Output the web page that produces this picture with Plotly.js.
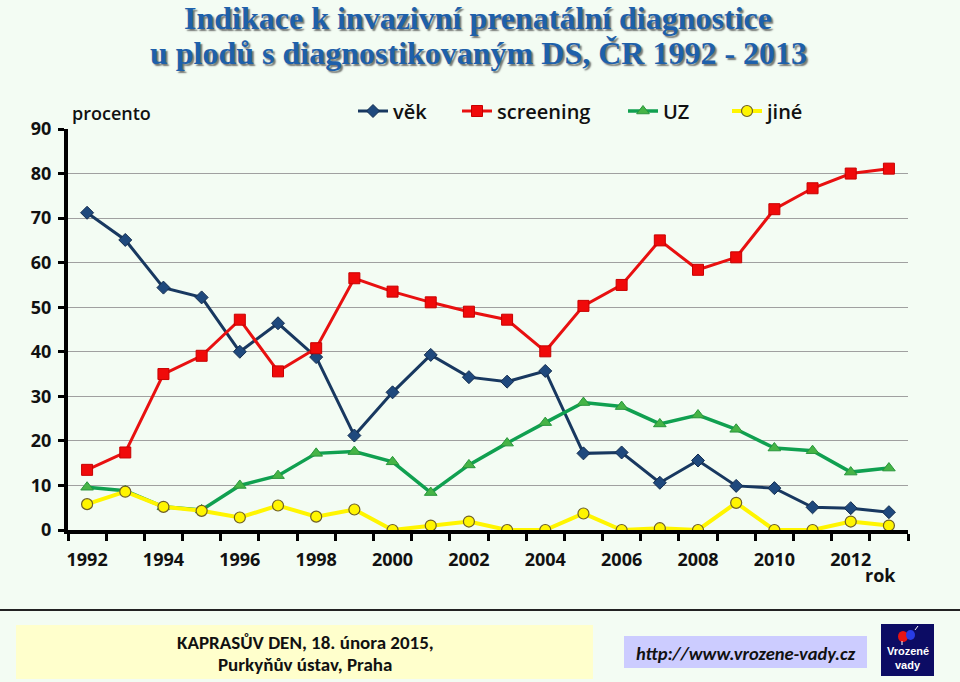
<!DOCTYPE html>
<html>
<head>
<meta charset="utf-8">
<script src="https://cdn.plot.ly/plotly-3.0.1.min.js"></script>
<style>
  html, body { margin: 0; padding: 0; background: rgb(243,252,243); }
  #chart { width: 960px; height: 682px; }
</style>
</head>
<body>
<div id="chart"></div>
<script>
// ---- data ----
const years = [1992, 1993, 1994, 1995, 1996, 1997, 1998, 1999, 2000, 2001, 2002,
               2003, 2004, 2005, 2006, 2007, 2008, 2009, 2010, 2011, 2012, 2013];
const vek = [71.2, 65.1, 54.4, 52.2, 40.0, 46.4, 38.8, 21.2, 30.9, 39.3, 34.3,
             33.3, 35.7, 17.2, 17.4, 10.6, 15.6, 9.9, 9.4, 5.1, 4.9, 4.0];
const screening = [13.5, 17.4, 35.0, 39.1, 47.2, 35.6, 40.8, 56.5, 53.5, 51.1, 49.0,
                   47.2, 40.1, 50.3, 55.0, 65.0, 58.4, 61.2, 72.0, 76.7, 80.0, 81.1];
const uz = [9.6, 8.8, 5.2, 4.5, 10.0, 12.2, 17.2, 17.6, 15.3, 8.4, 14.6,
            19.5, 24.1, 28.6, 27.7, 23.8, 25.8, 22.6, 18.4, 17.8, 13.0, 13.9];
const jine = [5.8, 8.6, 5.2, 4.3, 2.8, 5.5, 3.0, 4.6, 0.0, 1.0, 1.9,
              0.0, 0.0, 3.7, 0.0, 0.4, 0.0, 6.1, 0.0, 0.0, 1.9, 1.0];
const seriesNames = ['věk', 'screening', 'UZ', 'jiné'];
const xTickVals = [1992, 1994, 1996, 1998, 2000, 2002, 2004, 2006, 2008, 2010, 2012];
const xTickText = ['1992', '1994', '1996', '1998', '2000', '2002', '2004', '2006', '2008', '2010', '2012'];
const yTickVals = [0, 10, 20, 30, 40, 50, 60, 70, 80, 90];
const titleLines = ['Indikace k invazivní prenatální diagnostice',
                    'u plodů s diagnostikovaným DS, ČR 1992 - 2013'];
const yLabel = 'procento';
const xLabel = 'rok';
const footerLines = ['KAPRASŮV DEN, 18. února 2015,', 'Purkyňův ústav, Praha'];
const footerUrl = 'http://www.vrozene-vady.cz';
const logoLines = ['Vrozené', 'vady'];

// ---- layout helpers (pixel -> paper) ----
const W = 960, H = 682;
const M = {l: 68, r: 52, t: 129, b: 152};
const PW = W - M.l - M.r, PH = H - M.t - M.b;
const px = v => (v - M.l) / PW;
const py = v => (H - M.b - v) / PH;

const BG = 'rgb(243,252,243)';
const tickFont = {family: 'Open Sans, Noto Sans, sans-serif', size: 18, color: '#111', weight: 700};
const legendFont = {family: 'Open Sans, Noto Sans, sans-serif', size: 20, color: '#111', weight: 600};

const bounds = years.map(y => y - 0.5).concat([years[years.length - 1] + 0.5]);

const traces = [
  {x: years, y: vek, name: seriesNames[0], mode: 'lines+markers', legend: 'legend',
   line: {color: 'rgb(24,56,96)', width: 3},
   marker: {symbol: 'diamond', size: 10, color: 'rgb(31,73,125)', line: {color: 'rgb(20,45,80)', width: 1}}},
  {x: years, y: screening, name: seriesNames[1], mode: 'lines+markers', legend: 'legend2',
   line: {color: 'rgb(232,16,16)', width: 3},
   marker: {symbol: 'square', size: 11, color: 'rgb(240,10,10)', line: {color: 'rgb(200,0,0)', width: 1}}},
  {x: years, y: uz, name: seriesNames[2], mode: 'lines+markers', legend: 'legend3',
   line: {color: 'rgb(16,160,80)', width: 3.5},
   marker: {symbol: 'triangle-up', size: 11, color: 'rgb(70,180,70)', line: {color: 'rgb(40,150,60)', width: 1}}},
  {x: years, y: jine, name: seriesNames[3], mode: 'lines+markers', legend: 'legend4',
   line: {color: 'rgb(255,245,0)', width: 4},
   marker: {symbol: 'circle', size: 11, color: 'rgb(255,245,0)', line: {color: 'rgb(110,95,40)', width: 1.2}}}
];

function legendAt(xpx) {
  return {x: px(xpx), xanchor: 'left', y: py(111), yanchor: 'middle', orientation: 'h',
          bgcolor: 'rgba(0,0,0,0)', borderwidth: 0, font: legendFont, itemwidth: 30,
          itemclick: false, itemdoubleclick: false};
}

const annotations = [];
// title (shadow added as CSS text-shadow after render)
const titleCenters = [18, 53];
titleLines.forEach((t, i) => {
  annotations.push({xref: 'paper', yref: 'paper', x: px(478), y: py(titleCenters[i]),
    xanchor: 'center', yanchor: 'middle', showarrow: false, text: t,
    font: {family: 'Liberation Serif, Times New Roman, serif', size: 32, weight: 700, color: 'rgb(30,96,170)'}});
});
annotations.push({xref: 'paper', yref: 'paper', x: px(70), y: py(113), xanchor: 'left', yanchor: 'middle',
  showarrow: false, text: yLabel, font: {family: 'Open Sans, sans-serif', size: 18, weight: 600, color: '#111'}});
annotations.push({xref: 'paper', yref: 'paper', x: px(880), y: py(575), xanchor: 'center', yanchor: 'middle',
  showarrow: false, text: xLabel, font: {family: 'Open Sans, sans-serif', size: 18, weight: 700, color: '#111'}});
const footFont = {family: 'Carlito, Open Sans, sans-serif', size: 19, weight: 600, color: '#111'};
annotations.push({xref: 'paper', yref: 'paper', x: px(305), y: py(642), xanchor: 'center', yanchor: 'middle',
  showarrow: false, text: footerLines[0], font: footFont});
annotations.push({xref: 'paper', yref: 'paper', x: px(305), y: py(664), xanchor: 'center', yanchor: 'middle',
  showarrow: false, text: footerLines[1], font: footFont});
annotations.push({xref: 'paper', yref: 'paper', x: px(746), y: py(653), xanchor: 'center', yanchor: 'middle',
  showarrow: false, text: '<i>' + footerUrl + '</i>', font: {family: 'Carlito, Open Sans, sans-serif', size: 18.5, weight: 600, color: '#111'}});
annotations.push({xref: 'paper', yref: 'paper', x: px(907.5), y: py(651), xanchor: 'center', yanchor: 'middle',
  showarrow: false, text: logoLines[0], font: {family: 'Liberation Sans, Arial, sans-serif', size: 11, weight: 700, color: '#fff'}});
annotations.push({xref: 'paper', yref: 'paper', x: px(907.5), y: py(665), xanchor: 'center', yanchor: 'middle',
  showarrow: false, text: logoLines[1], font: {family: 'Liberation Sans, Arial, sans-serif', size: 11, weight: 700, color: '#fff'}});

const shapes = [
  {type: 'line', xref: 'paper', yref: 'paper', x0: px(0), x1: px(960), y0: py(610), y1: py(610),
   line: {color: '#222', width: 2}},
  {type: 'rect', xref: 'paper', yref: 'paper', x0: px(16), x1: px(593), y0: py(625), y1: py(679),
   fillcolor: 'rgb(255,255,204)', line: {width: 0}},
  {type: 'rect', xref: 'paper', yref: 'paper', x0: px(624), x1: px(867), y0: py(636), y1: py(668),
   fillcolor: 'rgb(204,204,255)', line: {width: 0}},
  {type: 'rect', xref: 'paper', yref: 'paper', x0: px(881), x1: px(934), y0: py(624), y1: py(676),
   fillcolor: 'rgb(12,12,100)', line: {width: 0}},
  {type: 'circle', xref: 'paper', yref: 'paper', x0: px(898), x1: px(908), y0: py(631), y1: py(642),
   fillcolor: 'rgb(230,20,20)', line: {width: 0}},
  {type: 'circle', xref: 'paper', yref: 'paper', x0: px(906), x1: px(915), y0: py(630), y1: py(640),
   fillcolor: 'rgb(40,60,230)', line: {width: 0}},
  {type: 'line', xref: 'paper', yref: 'paper', x0: px(915), x1: px(918), y0: py(630), y1: py(626),
   line: {color: '#fff', width: 1}},
  {type: 'line', xref: 'paper', yref: 'paper', x0: px(902), x1: px(902), y0: py(641), y1: py(645),
   line: {color: '#fff', width: 1}}
];

const layout = {
  width: W, height: H,
  margin: M,
  paper_bgcolor: BG, plot_bgcolor: BG,
  showlegend: true,
  legend: legendAt(353),
  legend2: legendAt(457),
  legend3: legendAt(623),
  legend4: legendAt(727),
  xaxis: {
    range: [1991.5, 2013.5], fixedrange: true,
    tickmode: 'array', tickvals: xTickVals, ticktext: xTickText,
    ticks: 'outside', ticklen: 10, tickcolor: 'rgba(0,0,0,0)', tickwidth: 1,
    tickfont: tickFont,
    showline: true, linecolor: '#000', linewidth: 4,
    showgrid: false, zeroline: false,
    minor: {tickmode: 'array', tickvals: bounds, ticks: 'outside', ticklen: 7, tickwidth: 3, tickcolor: '#000', showgrid: false}
  },
  yaxis: {
    range: [0, 90], fixedrange: true,
    tickmode: 'array', tickvals: yTickVals,
    ticks: 'outside', ticklen: 6, tickwidth: 3, tickcolor: '#000',
    ticklabelstandoff: 3,
    tickfont: tickFont,
    showline: true, linecolor: '#000', linewidth: 4,
    showgrid: true, gridcolor: 'rgb(160,160,160)', gridwidth: 1.2, zeroline: false
  },
  annotations: annotations,
  shapes: shapes
};

Plotly.newPlot('chart', traces, layout, {displayModeBar: false, staticPlot: true}).then(gd => {
  // drop shadow on the two title lines
  gd.querySelectorAll('.annotation').forEach(a => {
    const idx = +a.getAttribute('data-index');
    if (idx < titleLines.length) {
      const t = a.querySelector('text');
      if (t) t.style.textShadow = '2px 2px 1.5px rgba(30,30,30,0.6)';
    }
  });
});
</script>
</body>
</html>
